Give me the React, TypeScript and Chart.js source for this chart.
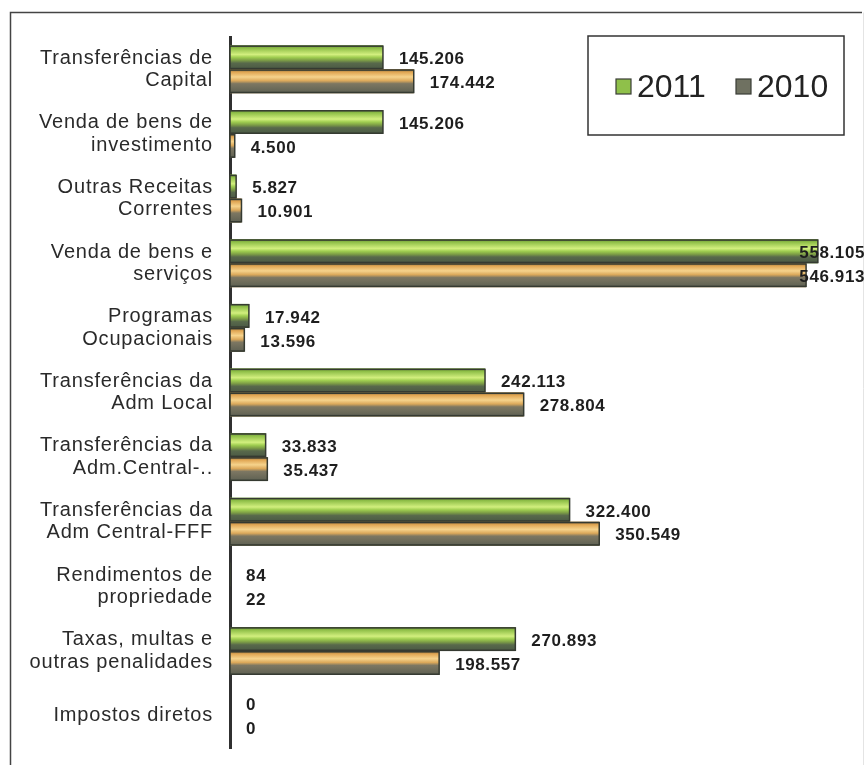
import React, { useEffect, useRef } from "react";
import { Chart, registerables } from "chart.js";

Chart.register(...registerables);

const categories: (string | string[])[] = [
  ["Transferências de", "Capital"],
  ["Venda de bens de", "investimento"],
  ["Outras Receitas", "Correntes"],
  ["Venda de bens e", "serviços"],
  ["Programas", "Ocupacionais"],
  ["Transferências da", "Adm Local"],
  ["Transferências da", "Adm.Central-.."],
  ["Transferências da", "Adm Central-FFF"],
  ["Rendimentos de", "propriedade"],
  ["Taxas, multas e", "outras penalidades"],
  "Impostos diretos",
];

const values2011: number[] = [145206, 145206, 5827, 558105, 17942, 242113, 33833, 322400, 84, 270893, 0];
const values2010: number[] = [174442, 4500, 10901, 546913, 13596, 278804, 35437, 350549, 22, 198557, 0];

const seriesLabels: string[] = ["2011", "2010"];
const xMax = 600000;

const FONT = "'Liberation Sans', Arial, sans-serif";

function fmt(v: number): string {
  return String(Math.round(v)).replace(/\B(?=(\d{3})+(?!\d))/g, ".");
}

const greenStops: [number, string][] = [
  [0, "#6a9238"],
  [0.12, "#8fbf48"],
  [0.38, "#d2ef7e"],
  [0.5, "#9fcd50"],
  [0.62, "#7e9f46"],
  [0.74, "#58694b"],
  [1, "#4a5844"],
];
const orangeStops: [number, string][] = [
  [0, "#8a6c3c"],
  [0.12, "#e0a653"],
  [0.32, "#f6d38c"],
  [0.48, "#dba85a"],
  [0.6, "#7d7762"],
  [1, "#5d6052"],
];

const framePlugin = {
  id: "frame",
  beforeDraw(chart: any) {
    const ctx = chart.ctx;
    ctx.save();
    ctx.fillStyle = "#ffffff";
    ctx.fillRect(0, 0, chart.width, chart.height);
    ctx.strokeStyle = "#444";
    ctx.lineWidth = 1.5;
    ctx.beginPath();
    ctx.moveTo(10.5, chart.height);
    ctx.lineTo(10.5, 12.5);
    ctx.lineTo(862, 12.5);
    ctx.stroke();
    ctx.strokeStyle = "#e4e4e4";
    ctx.lineWidth = 1;
    ctx.beginPath();
    ctx.moveTo(863.5, 12.5);
    ctx.lineTo(863.5, chart.height);
    ctx.stroke();
    ctx.restore();
    (ctx as any).letterSpacing = "0.8px";
  },
};

const barsPlugin = {
  id: "bars3d",
  afterDatasetsDraw(chart: any) {
    const ctx = chart.ctx;
    chart.data.datasets.forEach((ds: any, di: number) => {
      const meta = chart.getDatasetMeta(di);
      const stops = di === 0 ? greenStops : orangeStops;
      meta.data.forEach((el: any, i: number) => {
        const left = Math.min(el.base, el.x);
        const right = Math.max(el.base, el.x);
        const w = right - left;
        const top = el.y - el.height / 2;
        const h = el.height;
        if (w >= 1) {
          ctx.save();
          const g = ctx.createLinearGradient(0, top, 0, top + h);
          stops.forEach(([o, c]) => g.addColorStop(o, c));
          ctx.fillStyle = g;
          ctx.fillRect(left, top, w, h);
          ctx.strokeStyle = "#353a31";
          ctx.lineWidth = 1.5;
          ctx.strokeRect(left, top + 0.75, w, h - 1.5);
          ctx.restore();
        }
        // value label
        const txt = fmt(ds.data[i]);
        ctx.save();
        (ctx as any).letterSpacing = "0.6px";
        ctx.font = `bold 17px ${FONT}`;
        ctx.fillStyle = "#1e1e1e";
        ctx.textBaseline = "middle";
        ctx.textAlign = "left";
        const tw = ctx.measureText(txt).width;
        let x = right + 16;
        if (x + tw > chart.width - 1) x = chart.width - tw - 1;
        ctx.fillText(txt, x, el.y + 2);
        ctx.restore();
      });
    });
  },
};

const legendPlugin = {
  id: "boxLegend",
  afterDraw(chart: any) {
    const ctx = chart.ctx;
    ctx.save();
    (ctx as any).letterSpacing = "0px";
    ctx.strokeStyle = "#333";
    ctx.lineWidth = 1.5;
    ctx.fillStyle = "#ffffff";
    ctx.fillRect(588, 36, 256, 99);
    ctx.strokeRect(588, 36, 256, 99);
    const items = [
      { x: 616, fill: "#8fc04a", text: chart.data.datasets[0].label },
      { x: 736, fill: "#6f7161", text: chart.data.datasets[1].label },
    ];
    items.forEach((it) => {
      ctx.fillStyle = it.fill;
      ctx.fillRect(it.x, 79, 15, 15);
      ctx.strokeStyle = "#3a3d36";
      ctx.lineWidth = 1.2;
      ctx.strokeRect(it.x, 79, 15, 15);
      ctx.fillStyle = "#222";
      ctx.font = `32px ${FONT}`;
      ctx.textBaseline = "alphabetic";
      ctx.textAlign = "left";
      ctx.fillText(it.text, it.x + 21, 97);
    });
    ctx.restore();
  },
};

export default function App() {
  const ref = useRef<HTMLCanvasElement | null>(null);
  useEffect(() => {
    if (!ref.current) return;
    const chart = new Chart(ref.current, {
      type: "bar",
      data: {
        labels: categories,
        datasets: [
          {
            label: seriesLabels[0],
            data: values2011,
            backgroundColor: "#8fc04a",
            borderWidth: 0,
            categoryPercentage: 0.74,
            barPercentage: 1.0,
          },
          {
            label: seriesLabels[1],
            data: values2010,
            backgroundColor: "#c9a060",
            borderWidth: 0,
            categoryPercentage: 0.74,
            barPercentage: 1.0,
          },
        ],
      },
      options: {
        indexAxis: "y",
        responsive: false,
        animation: false,
        layout: { autoPadding: false, padding: { left: 0, right: 4, top: 37, bottom: 17 } },
        plugins: {
          legend: { display: false },
          tooltip: { enabled: false },
        },
        scales: {
          x: {
            display: false,
            min: 0,
            max: xMax,
          },
          y: {
            grid: { display: false, drawTicks: false },
            border: { display: true, color: "#303030", width: 3 },
            afterFit: (scale: any) => {
              scale.width = 230;
              scale.paddingTop = 0;
              scale.paddingBottom = 0;
            },
            ticks: {
              padding: 17,
              color: "#2a2a2a",
              font: { family: FONT, size: 20, lineHeight: 1.12 },
            },
          },
        },
      },
      plugins: [framePlugin, barsPlugin, legendPlugin],
    });
    return () => chart.destroy();
  }, []);
  return (
    <canvas
      ref={ref}
      width={866}
      height={765}
      style={{ position: "fixed", left: 0, top: 0, display: "block", background: "#fff" }}
    />
  );
}
